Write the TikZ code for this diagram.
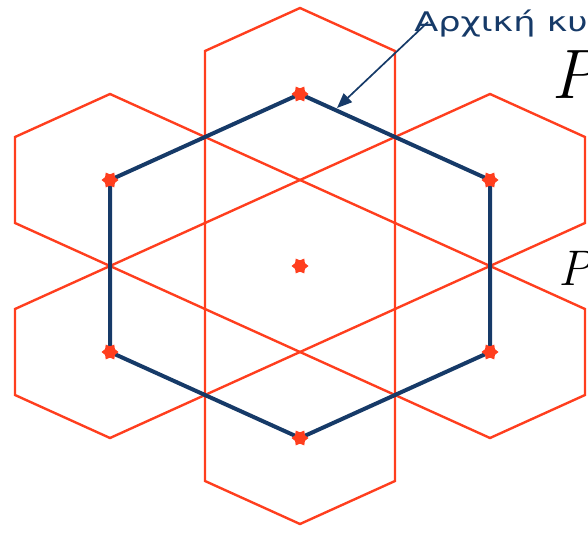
\documentclass[tikz,border=0pt]{standalone}
\usepackage{fontspec}
\newfontfamily\labelfont{DejaVu Sans}
\usetikzlibrary{shapes.geometric, arrows.meta, positioning}
\definecolor{cellred}{RGB}{255, 62, 30}
\definecolor{navy}{RGB}{22, 58, 104}

\begin{document}
\begin{tikzpicture}[x=1pt, y=-1pt,
            cell/.style={draw=cellred, line width=2.4pt, line join=miter},
            cluster/.style={draw=navy, line width=4pt, line join=miter},
            site/.style={star, star points=6, star point ratio=1.5, fill=cellred, inner sep=0pt, minimum size=17pt, shape border rotate=90},
            pointer/.style={-{Triangle[length=15pt, width=12pt]}, navy, line width=1.7pt},
            symbol/.style={anchor=base west, inner sep=0pt, font=\itshape\fontsize{#1}{#1}\selectfont}
        ]
            \useasboundingbox (0,0) rectangle (588,535);
            \clip (0,0) rectangle (588,535);
            % cells round every site
            \foreach \name/\cx/\cy in {c0/300/266, c1/300/94, c2/490/180, c3/490/352, c4/300/438, c5/110/352, c6/110/180} {
                \coordinate (\name) at (\cx,\cy);
                \draw[cell, shift={(\cx,\cy)}] (0,-86) -- (95,-43) -- (95,43) -- (0,86) -- (-95,43) -- (-95,-43) -- cycle;
            }
            
            \draw[cluster] (c1) -- (c2) -- (c3) -- (c4) -- (c5) -- (c6) -- cycle;
            
            \foreach \name in {c0, c1, c2, c3, c4, c5, c6}
                \node[site] (s\name) at (\name) {};
            
            \node[anchor=base west, inner sep=0pt, text=navy, font=\labelfont\fontsize{27}{27}\selectfont, xscale=1.3] (caption) at (414,32) {Αρχική κυψέλη};
            \coordinate (tip) at (337,108);
            \draw[pointer] ([xshift=14pt, yshift=10pt]caption.base west) -- (tip);
            
            \node[symbol=70] (pone) at (551,98) {P};
            \node[symbol=50] (ptwo) at (558,285) {P};
        \end{tikzpicture}
\end{document}
